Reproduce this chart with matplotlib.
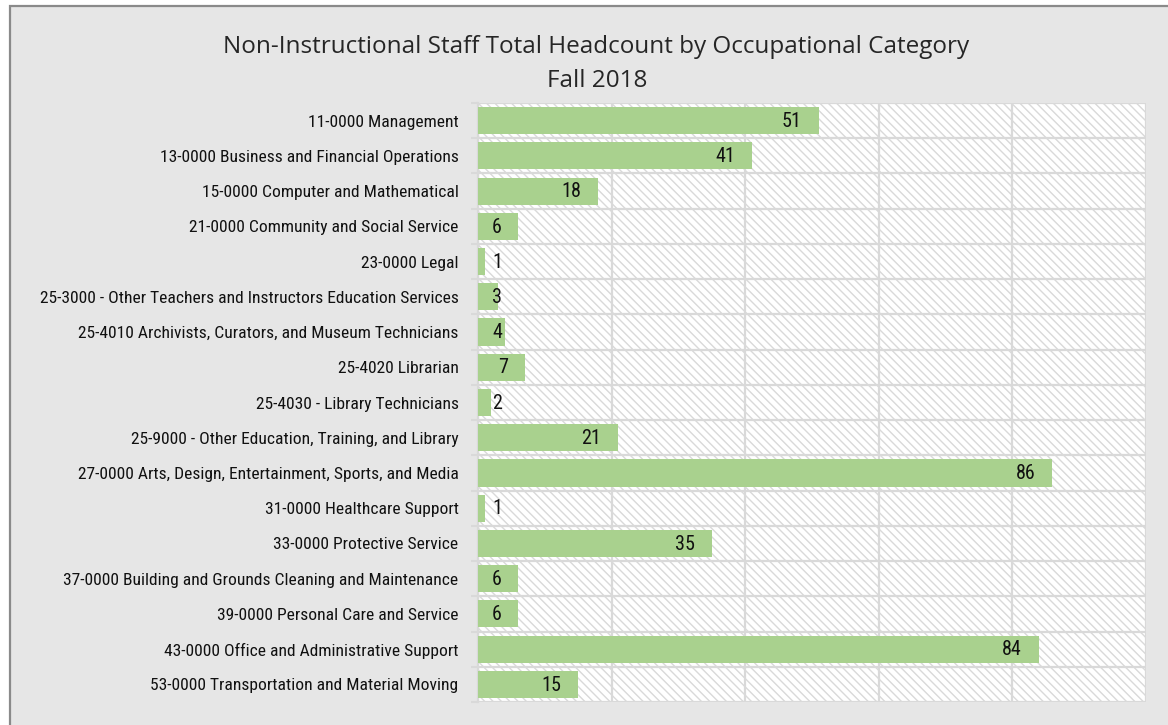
import matplotlib
matplotlib.use("Agg")
import matplotlib.pyplot as plt
from matplotlib.patches import Rectangle
import numpy as np

categories = [
    "11-0000 Management",
    "13-0000 Business and Financial Operations",
    "15-0000 Computer and Mathematical",
    "21-0000 Community and Social Service",
    "23-0000 Legal",
    "25-3000 - Other Teachers and Instructors Education Services",
    "25-4010 Archivists, Curators, and Museum Technicians",
    "25-4020 Librarian",
    "25-4030 - Library Technicians",
    "25-9000 - Other Education, Training, and Library",
    "27-0000 Arts, Design, Entertainment, Sports, and Media",
    "31-0000 Healthcare Support",
    "33-0000 Protective Service",
    "37-0000 Building and Grounds Cleaning and Maintenance",
    "39-0000 Personal Care and Service",
    "43-0000 Office and Administrative Support",
    "53-0000 Transportation and Material Moving",
]
values = [51, 41, 18, 6, 1, 3, 4, 7, 2, 21, 86, 1, 35, 6, 6, 84, 15]
title_lines = ["Non-Instructional Staff Total Headcount by Occupational Category", "Fall 2018"]

NARROW = ["Roboto Condensed", "Archivo Narrow", "DejaVu Sans"]
TITLE_FONT = ["Open Sans", "DejaVu Sans"]

W, H = 1168, 725
fig = plt.figure(figsize=(W / 100, H / 100), dpi=100)
fig.patch.set_facecolor("white")
fig.patches.append(Rectangle((10 / W, -0.1), 2, 1 - 6 / H + 0.1, transform=fig.transFigure,
                             facecolor="#e6e6e6", edgecolor="#8a8a8a", lw=1.6, zorder=-10))

ax = fig.add_axes([478 / W, 1 - 702 / H, (1146 - 478) / W, (702 - 103) / H])
ax.set_facecolor("white")
ax.add_patch(Rectangle((0, 0), 1, 1, transform=ax.transAxes, facecolor="white",
                       edgecolor="#d9d9d9", lw=0, hatch="\\\\\\\\", zorder=0))

y = np.arange(len(categories))
ax.barh(y, values, height=0.77, color="#a9d18e", zorder=3)

ax.set_xlim(0, 100)
ax.set_ylim(len(categories) - 0.5, -0.5)
ax.set_xticks(np.arange(0, 101, 20))
ax.tick_params(axis="x", length=0, labelbottom=False)
ax.set_yticks(y)
ax.set_yticklabels(categories, fontfamily=NARROW, fontsize=12.6, color="#111111")
ax.tick_params(axis="y", which="major", length=0, pad=14)
ax.set_yticks(np.arange(-0.5, len(categories), 1), minor=True)
ax.tick_params(axis="y", which="minor", length=5, color="#d9d9d9", width=1.5)
ax.grid(axis="x", which="major", color="#d9d9d9", lw=1.6, zorder=1)
ax.grid(axis="y", which="minor", color="#d9d9d9", lw=1.6, zorder=1)
ax.set_axisbelow(False)
for s in ["top", "right", "bottom"]:
    ax.spines[s].set_visible(False)
ax.spines["left"].set_color("#d9d9d9")
ax.spines["left"].set_linewidth(1.6)

for yi, v in zip(y, values):
    xr = max(v - 2.55, 3.6)
    ax.text(xr, yi + 0.02, str(v), ha="right", va="center", fontsize=14.5,
            fontfamily=NARROW, color="#111111", zorder=5)

fig.text(596 / W, 1 - 53 / H, title_lines[0], ha="center", va="baseline", fontsize=17.5,
         fontfamily=TITLE_FONT, color="#262626")
fig.text(597 / W, 1 - 87 / H, title_lines[1], ha="center", va="baseline", fontsize=17.5,
         fontfamily=TITLE_FONT, color="#262626")

fig.savefig("out.png", dpi=100, facecolor=fig.get_facecolor())
